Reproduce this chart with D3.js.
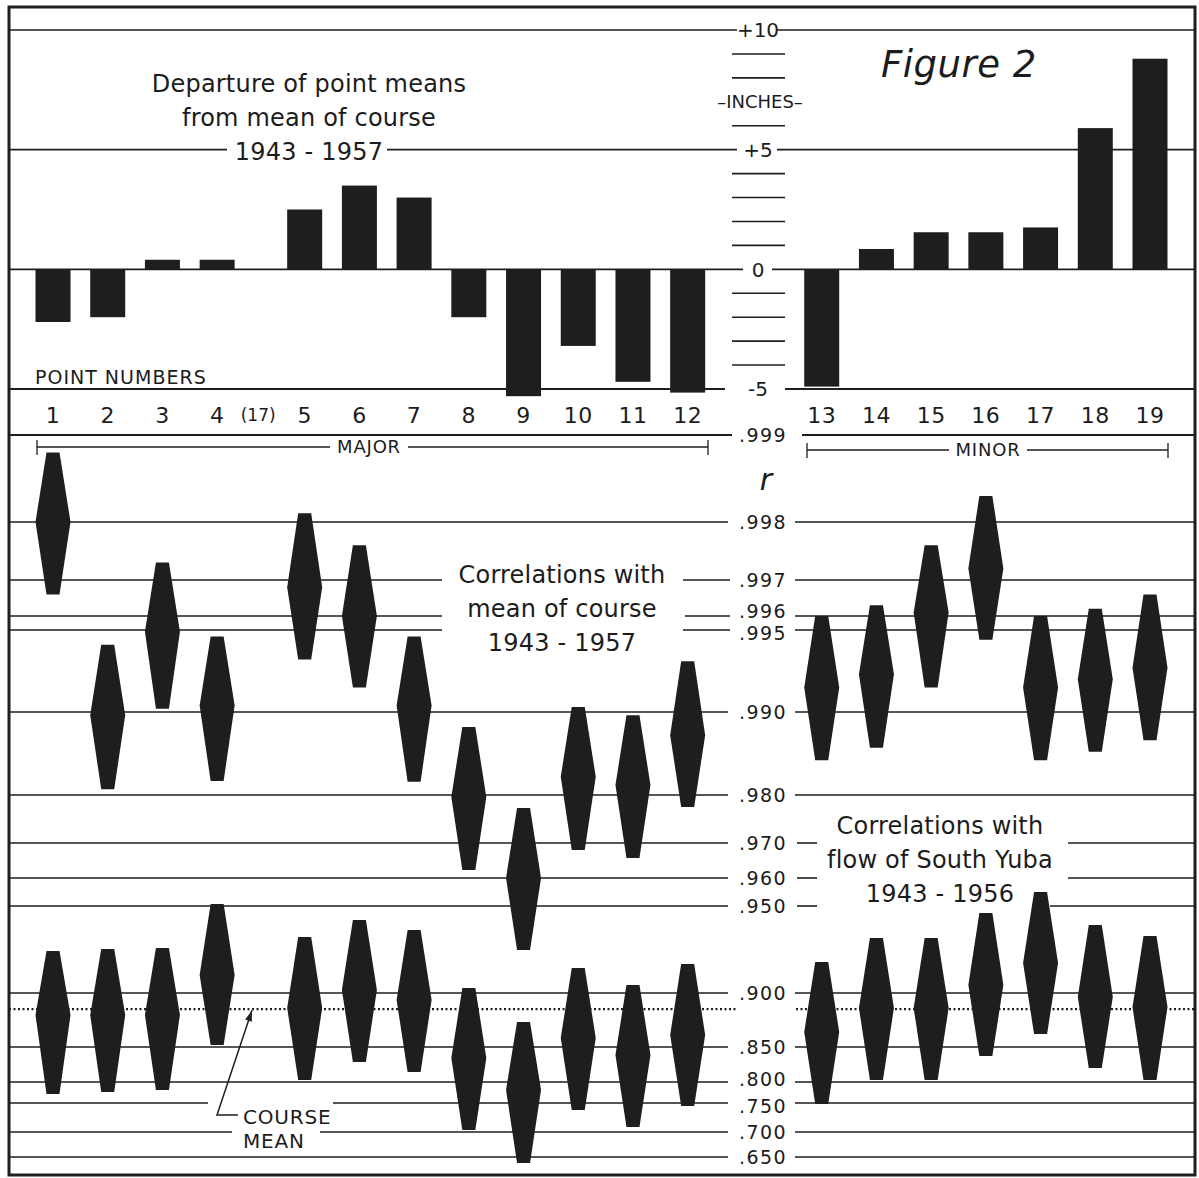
<!DOCTYPE html>
<html>
<head>
<meta charset="utf-8">
<script src="https://cdn.jsdelivr.net/npm/d3@7"></script>
<style>
  body { margin: 0; background: #fff; }
  text { font-family: "DejaVu Sans", sans-serif; fill: #1c1c1c; }
</style>
</head>
<body>
<svg id="chart"></svg>
<script>
const width = 1199, height = 1178;

// point numbers: 1-12 major, 13-19 minor
const points = ["1","2","3","4","5","6","7","8","9","10","11","12","13","14","15","16","17","18","19"];

// departure of point means from mean of course, inches
const departure = [-2.2, -2.0, 0.4, 0.4, 2.5, 3.5, 3.0, -2.0, -5.3, -3.2, -4.7, -5.15,
                   -4.9, 0.85, 1.55, 1.55, 1.75, 5.9, 8.8];

// correlations with mean of course 1943-1957 (r, lower, upper)
const courseR  = [.9980, .9896, .9949, .9904, .9968, .9960, .9904, .9796, .9600, .9822, .9812, .9872,
                  .9915, .9923, .9961, .9972, .9915, .9920, .9927];
const courseLo = [.9966, .9807, .9902, .9817, .9932, .9915, .9816, .9623, .9247, .9680, .9657, .9775,
                  .9842, .9857, .9915, .9944, .9842, .9852, .9866];
const courseHi = [.9988, .9941, .9973, .9946, .9981, .9976, .9946, .9882, .9773, .9903, .9896, .9931,
                  .9960, .9963, .9976, .9983, .9960, .9962, .9966];

// correlations with flow of South Yuba 1943-1956 (r, lower, upper)
const yubaR  = [.8796, .8796, .8796, .9103, .8861, .9017, .8935, .8343, .7810, .8583, .8386, .8611,
                .8639, .8861, .8861, .9046, .9172, .8963, .8870];
const yubaLo = [.7714, .7762, .7810, .8519, .8029, .8286, .8143, .7035, .6380, .7379, .7086, .7448,
                .7483, .8029, .8029, .8371, .8620, .8200, .8029];
const yubaHi = [.9241, .9253, .9259, .9507, .9322, .9420, .9362, .9029, .8732, .9144, .9046, .9167,
                .9178, .9316, .9316, .9460, .9550, .9391, .9328];

const courseMean = 0.885;

const inchTicks = [10, 5, 0, -5];
const inchLabels = ["+10", "+5", "0", "-5"];
const inchMinor = [9, 8, 6, 4, 3, 2, 1, -1, -2, -3, -4];

const rTicks = [.999, .998, .997, .996, .995, .990, .980, .970, .960, .950, .900, .850, .800, .750, .700, .650];
const rLabels = [".999", ".998", ".997", ".996", ".995", ".990", ".980", ".970", ".960", ".950",
                 ".900", ".850", ".800", ".750", ".700", ".650"];

// ---- layout ----
const L = 9, R = 1195, T = 7, B = 1175;
const ink = "#1e1e1e";

// hand drawn r axis: line positions as on the original sheet
const rTickY = [435, 522, 580, 616, 630, 712, 795, 843, 878, 906, 993, 1047, 1082, 1103, 1132, 1157];
// small nudges so crowded labels don't collide
const labelNudge = { ".996": -5, ".995": 3, ".800": -3, ".750": 3 };

const slot = i => i < 4 ? i : i < 12 ? i + 0.6 : i + 2.05;
const x = d3.scaleLinear().domain([0, 20.05]).range([53, 1150]);
const yIn = d3.scaleLinear().domain([-5, 10]).range([389, 30]);
const yR = d3.scaleLinear().domain(rTicks).range(rTickY);

const svg = d3.select("#chart").attr("width", width).attr("height", height);
svg.append("rect").attr("width", width).attr("height", height).attr("fill", "#fff");

const grid = svg.append("g").attr("stroke", ink).attr("stroke-width", 1.6);

function hline(y, gaps, sw) {
  const segs = [];
  let x0 = L;
  gaps.slice().sort((a, b) => a[0] - b[0]).forEach(([a, b]) => { segs.push([x0, a]); x0 = b; });
  segs.push([x0, R]);
  grid.append("g").selectAll("line").data(segs).join("line")
    .attr("x1", d => d[0]).attr("x2", d => d[1])
    .attr("y1", y).attr("y2", y)
    .attr("stroke-width", sw || 1.6);
}

// ---- top panel: inches ----
const inchGaps = { "10": [[737, 777]], "5": [[227, 387], [737, 777]], "0": [[743, 772]], "-5": [[725, 785]] };
inchTicks.forEach((v, i) => {
  hline(yIn(v), inchGaps[v], v === -5 ? 2 : 1.6);
  svg.append("text").attr("x", 758).attr("y", yIn(v)).attr("dy", "0.36em")
    .attr("text-anchor", "middle").attr("font-size", 20).text(inchLabels[i]);
});
grid.append("g").selectAll("line").data(inchMinor).join("line")
  .attr("x1", 732).attr("x2", 785)
  .attr("y1", d => yIn(d)).attr("y2", d => yIn(d));

svg.append("text").attr("x", 760).attr("y", yIn(7)).attr("dy", "0.36em")
  .attr("text-anchor", "middle").attr("font-size", 18).text("–INCHES–");

svg.append("g").selectAll("rect").data(departure).join("rect")
  .attr("x", (d, i) => x(slot(i)) - 17.5)
  .attr("width", 35)
  .attr("y", d => yIn(Math.max(0, d)))
  .attr("height", d => Math.abs(yIn(d) - yIn(0)))
  .attr("fill", ink);

function block(lines, cx, y0, step, size) {
  lines.forEach((s, i) => {
    svg.append("text").attr("x", cx).attr("y", y0 + i * step)
      .attr("text-anchor", "middle").attr("font-size", size).attr("letter-spacing", 0.2).text(s);
  });
}
block(["Departure of point means", "from mean of course", "1943 - 1957"], 309, 92, 34, 24);

svg.append("text").attr("x", 881).attr("y", 77).attr("font-size", 37)
  .attr("font-style", "italic").attr("letter-spacing", 0.5).text("Figure 2");

// ---- point number row ----
svg.append("text").attr("x", 35).attr("y", 384).attr("font-size", 19).attr("letter-spacing", 1)
  .text("POINT NUMBERS");
svg.append("g").selectAll("text").data(points).join("text")
  .attr("x", (d, i) => x(slot(i)))
  .attr("y", 423)
  .attr("text-anchor", "middle").attr("font-size", 22).attr("letter-spacing", 0.5)
  .text(d => d);
svg.append("text").attr("x", x(3.75)).attr("y", 421).attr("text-anchor", "middle")
  .attr("font-size", 17).text("(17)");

// brackets
function bracket(x1, x2, y, label, lx) {
  const g = svg.append("g").attr("stroke", ink).attr("stroke-width", 1.3);
  const w = label.length * 14;
  g.append("line").attr("x1", x1).attr("x2", lx - w / 2 - 4).attr("y1", y).attr("y2", y);
  g.append("line").attr("x1", lx + w / 2 + 4).attr("x2", x2).attr("y1", y).attr("y2", y);
  [x1, x2].forEach(xx => g.append("line").attr("x1", xx).attr("x2", xx).attr("y1", y - 7).attr("y2", y + 8));
  svg.append("text").attr("x", lx).attr("y", y).attr("dy", "0.36em").attr("text-anchor", "middle")
    .attr("font-size", 18).attr("letter-spacing", 0.8).text(label);
}
bracket(37, 708, 447, "MAJOR", 369);
bracket(807, 1168, 450, "MINOR", 988);

// ---- lower panel: r ----
const rGaps = {
  ".999": [[732, 802]],
  ".997": [[442, 683], [730, 795]], ".996": [[442, 685], [730, 795]], ".995": [[442, 683], [730, 795]],
  ".970": [[728, 797], [817, 1068]], ".960": [[728, 797], [817, 1068]], ".950": [[728, 797], [817, 1050]],
  ".750": [[208, 333], [728, 795]], ".700": [[232, 320], [728, 795]]
};
rTicks.forEach((v, i) => {
  hline(yR(v), rGaps[rLabels[i]] || [[728, 795]], i === 0 ? 1.8 : 1.6);
  svg.append("text").attr("x", 763).attr("y", yR(v) + (labelNudge[rLabels[i]] || 0)).attr("dy", "0.36em")
    .attr("text-anchor", "middle").attr("font-size", 19).attr("letter-spacing", 1.4).text(rLabels[i]);
});
svg.append("text").attr("x", 766).attr("y", 490).attr("text-anchor", "middle")
  .attr("font-family", "DejaVu Serif").attr("font-style", "italic").attr("font-size", 30).text("r");

// course mean dotted line
svg.append("g").attr("stroke", ink).attr("stroke-width", 2.2).attr("stroke-dasharray", "2,2.5")
  .selectAll("line").data([[L, 737], [796, R]]).join("line")
  .attr("x1", d => d[0]).attr("x2", d => d[1])
  .attr("y1", yR(courseMean)).attr("y2", yR(courseMean));

function diamonds(mid, lo, hi) {
  svg.append("g").selectAll("path").data(mid).join("path")
    .attr("fill", ink)
    .attr("d", (d, i) => {
      const cx = x(slot(i)), yt = yR(hi[i]), ym = yR(d), yb = yR(lo[i]);
      return `M${cx - 6.5},${yt}L${cx + 6.5},${yt}L${cx + 17.5},${ym}L${cx + 6.5},${yb}` +
             `L${cx - 6.5},${yb}L${cx - 17.5},${ym}Z`;
    });
}
diamonds(courseR, courseLo, courseHi);
diamonds(yubaR, yubaLo, yubaHi);

block(["Correlations with", "mean of course", "1943 - 1957"], 562, 583, 34, 24);
block(["Correlations with", "flow of South Yuba", "1943 - 1956"], 940, 834, 34, 24);

// course mean label with leader arrow
svg.append("text").attr("x", 243).attr("y", 1124).attr("font-size", 20).attr("letter-spacing", 0.8).text("COURSE");
svg.append("text").attr("x", 243).attr("y", 1148).attr("font-size", 20).attr("letter-spacing", 0.8).text("MEAN");
const tip = [252, yR(courseMean) + 1], knee = [217, 1115];
svg.append("path").attr("fill", "none").attr("stroke", ink).attr("stroke-width", 1.5)
  .attr("d", `M238,1115L${knee[0]},${knee[1]}L${tip[0]},${tip[1]}`);
{
  const dx = tip[0] - knee[0], dy = tip[1] - knee[1], len = Math.hypot(dx, dy);
  const ux = dx / len, uy = dy / len, px = -uy, py = ux;
  const bx = tip[0] - ux * 11, by = tip[1] - uy * 11;
  svg.append("path").attr("fill", ink)
    .attr("d", `M${tip[0]},${tip[1]}L${bx + px * 3.5},${by + py * 3.5}L${bx - px * 3.5},${by - py * 3.5}Z`);
}

// frame
svg.append("rect").attr("x", L).attr("y", T).attr("width", R - L).attr("height", B - T)
  .attr("fill", "none").attr("stroke", ink).attr("stroke-width", 3);
</script>
</body>
</html>
